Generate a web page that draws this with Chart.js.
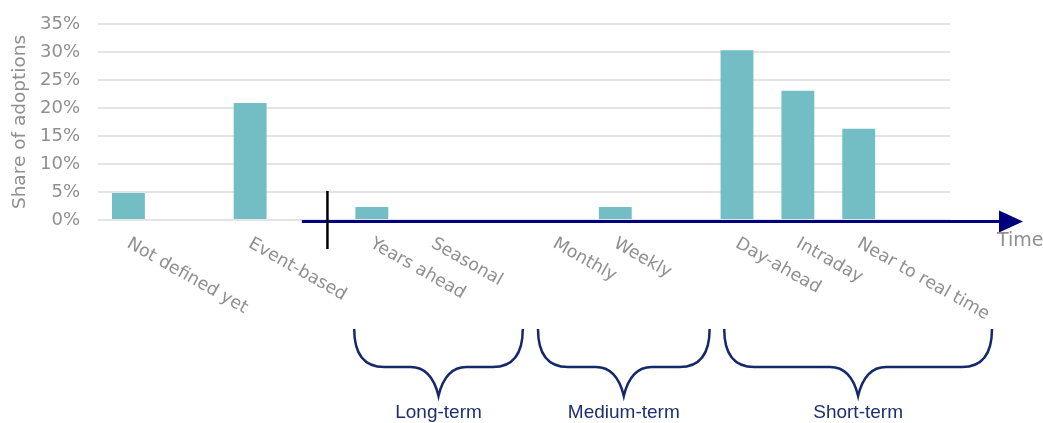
<!DOCTYPE html>
<html>
<head>
<meta charset="utf-8">
<script src="https://cdn.jsdelivr.net/npm/chart.js@4.4.1/dist/chart.umd.min.js"></script>
<style>
  html, body { margin: 0; padding: 0; background: #fff; }
  #wrap { width: 1043px; height: 423px; }
</style>
</head>
<body>
<div id="wrap"><canvas id="myChart" width="1043" height="423"></canvas></div>
<script>
// categories along the time axis (blank slots are gaps in the original)
const categories = ['Not defined yet', '', 'Event-based', '', 'Years ahead', 'Seasonal', '',
  'Monthly', 'Weekly', '', 'Day-ahead', 'Intraday', 'Near to real time', ''];
const shares = [4.8, null, 20.9, null, 2.3, 0, null, 0, 2.3, null, 30.3, 23.1, 16.3, null];
const yTicks = [0, 5, 10, 15, 20, 25, 30, 35];

// groups shown with braces under the axis (in category units)
const groupLabels = ['Long-term', 'Medium-term', 'Short-term'];
const groupStart = [3.71, 6.73, 9.79];
const groupEnd = [6.48, 9.55, 14.19];

const grey = '#8f8f8f';
const navy = '#15296a';

function catX(scale, v) {
  const step = scale.width / categories.length;
  return scale.left + (v + 0.5) * step;
}

function brace(ctx, x1, x2, yTop, yMid, yTip) {
  const m = (x1 + x2) / 2;
  ctx.beginPath();
  ctx.moveTo(x1, yTop);
  ctx.bezierCurveTo(x1, yTop + 26, x1 + 10, yMid, x1 + 30, yMid);
  ctx.lineTo(m - 28, yMid);
  ctx.bezierCurveTo(m - 12, yMid, m - 4, yMid + 12, m, yTip);
  ctx.bezierCurveTo(m + 4, yMid + 12, m + 12, yMid, m + 28, yMid);
  ctx.lineTo(x2 - 30, yMid);
  ctx.bezierCurveTo(x2 - 10, yMid, x2, yTop + 26, x2, yTop);
  ctx.stroke();
}

const annotations = {
  id: 'annotations',
  afterDraw(chart) {
    const ctx = chart.ctx;
    const x = chart.scales.x;
    const y = chart.scales.y;
    const y0 = y.getPixelForValue(0);
    ctx.save();

    // rotated category labels
    ctx.fillStyle = grey;
    ctx.font = '17.5px "DejaVu Sans"';
    ctx.textAlign = 'left';
    ctx.textBaseline = 'top';
    categories.forEach((c, i) => {
      if (!c) return;
      ctx.save();
      ctx.translate(catX(x, i) + 4, y0 + 15);
      ctx.rotate(29.5 * Math.PI / 180);
      ctx.fillText(c, 0, 0);
      ctx.restore();
    });

    // time arrow
    const ay = y0 + 1.5;
    const aStart = catX(x, 2.85);
    const aEnd = catX(x, 14.7);
    ctx.strokeStyle = '#00007f';
    ctx.lineWidth = 3;
    ctx.beginPath();
    ctx.moveTo(aStart, ay);
    ctx.lineTo(aEnd - 20, ay);
    ctx.stroke();
    ctx.fillStyle = '#00007f';
    ctx.beginPath();
    ctx.moveTo(aEnd - 24, ay - 11);
    ctx.lineTo(aEnd, ay);
    ctx.lineTo(aEnd - 24, ay + 11);
    ctx.closePath();
    ctx.fill();

    // start marker
    ctx.strokeStyle = '#000';
    ctx.lineWidth = 2.5;
    ctx.beginPath();
    ctx.moveTo(catX(x, 3.27), y0 - 29);
    ctx.lineTo(catX(x, 3.27), y0 + 29);
    ctx.stroke();

    ctx.fillStyle = grey;
    ctx.font = '19px "DejaVu Sans"';
    ctx.textBaseline = 'middle';
    ctx.fillText('Time', aEnd - 26, y0 + 21);

    // braces
    ctx.strokeStyle = navy;
    ctx.lineWidth = 2.5;
    ctx.fillStyle = '#1d2f6f';
    ctx.font = '19px "Liberation Sans"';
    ctx.textAlign = 'center';
    groupLabels.forEach((g, i) => {
      const x1 = catX(x, groupStart[i]);
      const x2 = catX(x, groupEnd[i]);
      brace(ctx, x1, x2, 329, 367, 396);
      ctx.fillText(g, (x1 + x2) / 2, 413);
    });
    ctx.restore();
  }
};

Chart.defaults.font.family = '"DejaVu Sans"';

const config = {
  type: 'bar',
  data: {
    labels: categories,
    datasets: [{
      label: 'Share of adoptions',
      data: shares,
      backgroundColor: '#72bec4',
      borderWidth: 0,
      categoryPercentage: 0.9,
      barPercentage: 0.6,
    }],
  },
  options: {
    responsive: false,
    animation: false,
    devicePixelRatio: 1,
    layout: { padding: { left: 0, right: 93, top: 24, bottom: 203 } },
    plugins: { legend: { display: false }, tooltip: { enabled: false } },
    scales: {
      x: { display: false },
      y: {
        min: 0,
        max: 35,
        afterBuildTicks(scale) { scale.ticks = yTicks.map(v => ({ value: v })); },
        afterFit(scale) {
          scale.width = 98;
          scale.paddingTop = 0;
          scale.paddingBottom = 0;
        },
        ticks: {
          padding: 18,
          color: grey,
          font: { size: 18 },
          callback: v => v + '%',
        },
        grid: { color: '#e4e4e4', lineWidth: 2, drawTicks: false },
        border: { display: false },
        title: {
          display: true,
          text: 'Share of adoptions',
          color: grey,
          font: { size: 18.5 },
          padding: { top: 9, bottom: 0 },
        },
      },
    },
  },
  plugins: [annotations],
};

const ctx = document.getElementById('myChart').getContext('2d');
const myChart = new Chart(ctx, config);
</script>
</body>
</html>
